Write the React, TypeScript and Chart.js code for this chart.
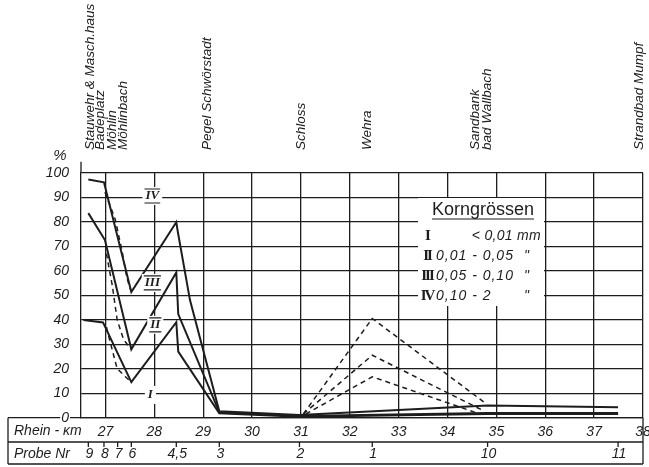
import React, { useEffect, useRef } from 'react';
import { Chart, registerables } from 'chart.js';

Chart.register(...registerables);

// ---------- data ----------
const KM_TICKS = [27, 28, 29, 30, 31, 32, 33, 34, 35, 36, 37, 38];
const PCT_TICKS = [0, 10, 20, 30, 40, 50, 60, 70, 80, 90, 100];

// boundary I+II+III (above it: fraction IV)
const KM_UPPER = [26.65, 26.97, 27.53, 28.45, 28.48, 28.73, 29.33, 30.97, 34.82, 37.49];
const PCT_UPPER = [97.2, 96.1, 51.3, 79.8, 76.0, 48.0, 2.6, 1.1, 5.0, 4.3];
// boundary I+II (between it and upper: fraction III)
const KM_MIDDLE = [26.65, 26.99, 27.53, 28.45, 28.49, 29.33, 30.97, 34.82, 37.49];
const PCT_MIDDLE = [83.5, 72.5, 27.9, 59.3, 42.3, 2.2, 0.7, 1.9, 1.9];
// boundary I (below it: fraction I)
const KM_LOWER = [26.55, 26.95, 27.53, 28.45, 28.49, 29.33, 30.97, 34.82, 37.49];
const PCT_LOWER = [39.9, 38.9, 14.5, 39.0, 27.0, 1.8, 0.4, 1.5, 1.5];

// dashed variants near Möhlin
const KM_DASH_UPPER = [26.99, 27.2, 27.34, 27.44, 27.53];
const PCT_DASH_UPPER = [92.0, 81.0, 68.0, 57.0, 51.3];
const KM_DASH_MIDDLE = [27.02, 27.14, 27.24, 27.37, 27.52];
const PCT_DASH_MIDDLE = [67.0, 54.0, 40.0, 32.0, 28.0];
const KM_DASH_LOWER = [27.02, 27.07, 27.24, 27.41, 27.53];
const PCT_DASH_LOWER = [37.0, 33.0, 20.0, 16.7, 14.5];

// dashed excursions at the Wehra (sample 1)
const KM_WEHRA_UPPER = [31.05, 32.46, 34.75];
const PCT_WEHRA_UPPER = [1.5, 40.5, 6.3];
const KM_WEHRA_MIDDLE = [31.05, 32.46, 34.7];
const PCT_WEHRA_MIDDLE = [1.5, 25.5, 3.2];
const KM_WEHRA_LOWER = [31.1, 32.46, 34.62];
const PCT_WEHRA_LOWER = [1.5, 16.7, 1.8];

const PROBE_LABELS = ['9', '8', '7', '6', '4,5', '3', '2', '1', '10', '11'];
const PROBE_KM = [26.65, 26.97, 27.25, 27.53, 28.45, 29.33, 30.97, 32.46, 34.82, 37.49];

const PLACE_LABELS = ['Stauwehr & Masch.haus', 'Badeplatz', 'Möhlin', 'Möhlinbach', 'Pegel Schwörstadt', 'Schloss', 'Wehra', 'Sandbank', 'bad Wallbach', 'Strandbad Mumpf'];
const PLACE_KM = [26.69, 26.9, 27.14, 27.37, 29.08, 31.0, 32.36, 34.57, 34.81, 37.92];

const CURVE_LABELS = ['IV', 'III', 'II', 'I'];
const CURVE_LABEL_KM = [27.96, 27.96, 28.02, 27.92];
const CURVE_LABEL_PCT = [90.5, 55.0, 37.9, 9.3];

const LEGEND_TITLE = 'Korngrössen';
const LEGEND_NUMERALS = ['I', 'II', 'III', 'IV'];
const LEGEND_RANGES = ['< 0,01 mm', '0,01 - 0,05', '0,05 - 0,10', '0,10 - 2'];
const LEGEND_DITTO = ['', '"', '"', '"'];

// ---------- styles ----------
const INK = '#1d1d1d';
const SANS = '"Liberation Sans", "DejaVu Sans", Arial, sans-serif';
const SERIF = '"Liberation Serif", "DejaVu Serif", serif';
const PLOT_LEFT = 81;
const PLOT_BOTTOM = 417.7;
const PAGE_W = 649;
const PAGE_H = 467;

const pts = (xs: number[], ys: number[]) => xs.map((x, i) => ({ x, y: ys[i] }));

const solid = (xs: number[], ys: number[]) => ({
  data: pts(xs, ys),
  borderColor: INK,
  borderWidth: 2,
  pointRadius: 0,
  tension: 0,
  fill: false,
});
const dashed = (xs: number[], ys: number[]) => ({
  data: pts(xs, ys),
  borderColor: INK,
  borderWidth: 1.5,
  borderDash: [5, 4],
  pointRadius: 0,
  tension: 0,
  fill: false,
});

const decor = {
  id: 'decor',
  beforeDraw(chart: any) {
    const { ctx, chartArea: ca, scales } = chart;
    const x = scales.x;
    const y = scales.y;
    ctx.save();
    ctx.fillStyle = '#fff';
    ctx.fillRect(0, 0, chart.width, chart.height);
    ctx.strokeStyle = INK;
    ctx.fillStyle = INK;
    ctx.lineWidth = 1.3;
    const y0 = y.getPixelForValue(0);
    const rowMid = 442;
    const rowBot = 464;
    ctx.beginPath();
    ctx.moveTo(8, y0); ctx.lineTo(ca.left, y0);
    ctx.moveTo(8, y0); ctx.lineTo(8, rowBot);
    ctx.moveTo(8, rowMid); ctx.lineTo(ca.right, rowMid);
    ctx.moveTo(8, rowBot); ctx.lineTo(ca.right, rowBot);
    ctx.moveTo(ca.right, y0); ctx.lineTo(ca.right, rowBot);
    ctx.moveTo(ca.left, ca.top); ctx.lineTo(ca.left, ca.top - 11);
    ctx.stroke();
    ctx.beginPath();
    PROBE_KM.forEach((k) => {
      const px = x.getPixelForValue(k);
      ctx.moveTo(px, rowMid); ctx.lineTo(px, rowMid + 5);
    });
    ctx.stroke();
    ctx.font = `italic 14px ${SANS}`;
    ctx.textBaseline = 'middle';
    ctx.textAlign = 'left';
    ctx.fillText('Rhein - km', 14, 431);
    ctx.fillText('Probe Nr', 14, 454);
    ctx.textAlign = 'center';
    PROBE_LABELS.forEach((t, i) => {
      ctx.fillText(t, x.getPixelForValue(PROBE_KM[i]) + 1, 454);
    });
    ctx.font = `italic 15px ${SANS}`;
    ctx.fillText('%', 60, 156);
    ctx.font = `italic 13.5px ${SANS}`;
    ctx.textAlign = 'left';
    PLACE_LABELS.forEach((t, i) => {
      ctx.save();
      ctx.translate(x.getPixelForValue(PLACE_KM[i]), 150);
      ctx.rotate(-Math.PI / 2);
      ctx.fillText(t, 0, 0);
      ctx.restore();
    });
    ctx.restore();
  },
  afterDatasetsDraw(chart: any) {
    const { ctx, scales } = chart;
    const x = scales.x;
    const y = scales.y;
    ctx.save();
    ctx.fillStyle = INK;
    ctx.strokeStyle = INK;
    ctx.font = `italic bold 13px ${SERIF}`;
    ctx.textAlign = 'center';
    ctx.textBaseline = 'middle';
    CURVE_LABELS.forEach((t, i) => {
      const px = x.getPixelForValue(CURVE_LABEL_KM[i]);
      const py = y.getPixelForValue(CURVE_LABEL_PCT[i]);
      const w = ctx.measureText(t).width + 4;
      ctx.fillStyle = '#fff';
      ctx.fillRect(px - w / 2 - 1, py - 9, w + 2, 18);
      ctx.fillStyle = INK;
      ctx.fillText(t, px, py);
      if (t !== 'I') {
        ctx.lineWidth = 1.2;
        ctx.beginPath();
        ctx.moveTo(px - w / 2 + 1, py - 7); ctx.lineTo(px + w / 2 - 1, py - 7);
        ctx.moveTo(px - w / 2 + 1, py + 7); ctx.lineTo(px + w / 2 - 1, py + 7);
        ctx.stroke();
      }
    });
    ctx.fillStyle = '#fff';
    ctx.fillRect(418, 198, 126, 108);
    ctx.fillStyle = INK;
    ctx.font = `18px ${SANS}`;
    ctx.textAlign = 'left';
    ctx.textBaseline = 'alphabetic';
    ctx.fillText(LEGEND_TITLE, 432, 215);
    const tw = ctx.measureText(LEGEND_TITLE).width;
    ctx.lineWidth = 1.2;
    ctx.beginPath();
    ctx.moveTo(432, 219); ctx.lineTo(432 + tw, 219);
    ctx.stroke();
    const rowsY = [236, 256, 276, 296];
    LEGEND_NUMERALS.forEach((n, i) => {
      ctx.font = `bold 15px ${SERIF}`;
      (ctx as any).letterSpacing = '-2px';
      ctx.textAlign = 'center';
      ctx.textBaseline = 'middle';
      ctx.fillText(n, 427, rowsY[i] + 0.5);
      (ctx as any).letterSpacing = i === 0 ? '0.3px' : '1px';
      ctx.font = `italic 14px ${SANS}`;
      ctx.textAlign = i === 0 ? 'right' : 'left';
      ctx.fillText(LEGEND_RANGES[i], i === 0 ? 541 : 436, rowsY[i]);
      (ctx as any).letterSpacing = '0px';
      ctx.textAlign = 'left';
      if (LEGEND_DITTO[i]) ctx.fillText(LEGEND_DITTO[i], 524, rowsY[i]);
    });
    ctx.restore();
  },
};

export default function App() {
  const ref = useRef<HTMLCanvasElement>(null);
  useEffect(() => {
    if (!ref.current) return;
    const PAD_LEFT = 8;
    const fitX = (s: any) => {
      s.height = PAGE_H - PLOT_BOTTOM;
      s.paddingLeft = 0; s.paddingRight = 0;
    };
    const fitY = (s: any) => {
      s.width = PLOT_LEFT - PAD_LEFT;
      s.paddingTop = 0; s.paddingBottom = 0;
    };
    const chart = new Chart(ref.current, {
      type: 'line',
      data: {
        datasets: [
          solid(KM_UPPER, PCT_UPPER),
          solid(KM_MIDDLE, PCT_MIDDLE),
          solid(KM_LOWER, PCT_LOWER),
          dashed(KM_DASH_UPPER, PCT_DASH_UPPER),
          dashed(KM_DASH_MIDDLE, PCT_DASH_MIDDLE),
          dashed(KM_DASH_LOWER, PCT_DASH_LOWER),
          dashed(KM_WEHRA_UPPER, PCT_WEHRA_UPPER),
          dashed(KM_WEHRA_MIDDLE, PCT_WEHRA_MIDDLE),
          dashed(KM_WEHRA_LOWER, PCT_WEHRA_LOWER),
        ] as any,
      },
      options: {
        responsive: false,
        animation: false,
        events: [],
        layout: { padding: { left: PAD_LEFT, right: 6, top: 172.7, bottom: 0 } },
        plugins: { legend: { display: false }, tooltip: { enabled: false } },
        scales: {
          x: {
            type: 'linear',
            min: 26.5,
            max: 38,
            afterFit: fitX,
            afterBuildTicks: (s: any) => { s.ticks = KM_TICKS.map((v) => ({ value: v })); },
            grid: { color: INK, lineWidth: 1.3, drawTicks: false },
            border: { color: INK, width: 1.3 },
            ticks: {
              autoSkip: false,
              maxRotation: 0,
              minRotation: 0,
              padding: 6,
              color: INK,
              font: { family: SANS, size: 14, style: 'italic' },
            },
          },
          y: {
            type: 'linear',
            min: 0,
            max: 100,
            afterFit: fitY,
            afterBuildTicks: (s: any) => { s.ticks = PCT_TICKS.map((v) => ({ value: v })); },
            grid: { color: INK, lineWidth: 1.3, drawTicks: false },
            border: { color: INK, width: 1.3 },
            ticks: {
              autoSkip: false,
              padding: 12,
              color: INK,
              showLabelBackdrop: true,
              backdropColor: '#fff',
              backdropPadding: 1,
              font: { family: SANS, size: 14, style: 'italic' },
            },
          },
        },
      } as any,
      plugins: [decor],
    });
    return () => chart.destroy();
  }, []);
  return (
    <div style={{ position: 'absolute', left: 0, top: 0, width: PAGE_W, height: PAGE_H, background: '#fff' }}>
      <canvas ref={ref} width={PAGE_W} height={PAGE_H} style={{ display: 'block', width: PAGE_W, height: PAGE_H }} />
    </div>
  );
}
